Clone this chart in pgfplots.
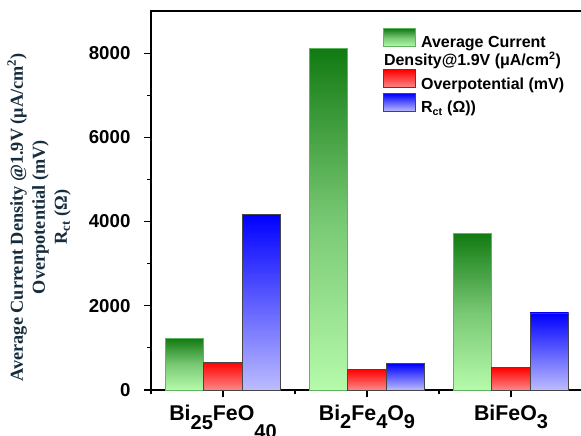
\documentclass[border=0pt]{standalone}
\usepackage{fontspec}
\setmainfont{Liberation Serif}
\setsansfont{Liberation Sans}
\usepackage{pgfplots}
\pgfplotsset{compat=1.18}
\definecolor{gtop}{RGB}{18,122,18}
\definecolor{gmid}{RGB}{120,200,115}
\definecolor{gbot}{RGB}{182,250,172}
\definecolor{gedge}{RGB}{95,180,95}
\definecolor{rtop}{RGB}{255,0,0}
\definecolor{rbot}{RGB}{255,135,135}
\definecolor{btop}{RGB}{0,0,255}
\definecolor{bbot}{RGB}{188,188,255}
\definecolor{edge}{RGB}{70,70,70}
\definecolor{ylab}{RGB}{22,45,62}
\newcommand\sbx[2]{\raisebox{#1}{\fontsize{15}{15}\selectfont #2}}
\pgfplotsset{
  gbar/.style={ybar, bar width=0.267, bar shift=-0.267, draw=gedge, line width=0.6pt, top color=gtop, bottom color=gbot, middle color=gmid},
  rbar/.style={ybar, bar width=0.267, bar shift=0, draw=edge, line width=0.6pt, top color=rtop, bottom color=rbot},
  bbar/.style={ybar, bar width=0.267, bar shift=0.267, draw=edge, line width=0.6pt, top color=btop, bottom color=bbot},
}
\begin{document}
\begin{tikzpicture}
\begin{axis}[
  at={(0,0)}, anchor=south west,
  scale only axis, width=324pt, height=284.25pt,
  xmin=0.5, xmax=3.5, ymin=0, ymax=9000,
  xtick={1,2,3},
  xticklabels={{Bi\sbx{-6.75pt}{25}FeO\sbx{-13.5pt}{40}}, {Bi\sbx{-6pt}{2}Fe\sbx{-6pt}{4}O\sbx{-6pt}{9}}, {BiFeO\sbx{-6pt}{3}}},
  minor xtick={0.5,1.5,2.5,3.5},
  ytick={0,2000,4000,6000,8000},
  minor ytick={1000,3000,5000,7000},
  tick pos=left,
  tick align=outside,
  major tick length=5.5pt, minor tick length=3pt,
  tick style={black, line width=0.9pt},
  axis line style={line width=0.9pt},
  scaled y ticks=false,
  /pgf/number format/assume math mode=true,
  /pgf/number format/1000 sep={},
  yticklabel style={font=\fontsize{14}{14}\selectfont\sffamily\bfseries, inner sep=0pt, anchor=east, xshift=-9.75pt},
  xticklabel style={font=\fontsize{16}{16}\selectfont\sffamily\bfseries, inner sep=0pt, anchor=north, yshift=-5.75pt},
  ylabel={Average Current Density @1.9V (μA/cm\textsuperscript{2})\\Overpotential (mV)\\R\textsubscript{ct} (Ω)},
  ylabel style={at={(axis description cs:-0.259,0.456)}, anchor=center, align=center, font=\fontsize{13.7}{16.5}\selectfont\rmfamily\bfseries, text=ylab},
  legend style={at={(axis description cs:0.537,0.955)}, anchor=north west, draw=none, fill=none, inner sep=0pt,
    font=\fontsize{12}{12}\selectfont\sffamily\bfseries, row sep=1.5pt, column sep=3.75pt, nodes={inner sep=0pt}},
  legend cell align=left,
  legend image code/.code={\draw[#1] (0pt,-2.4pt) rectangle (24pt,11pt);},
]
\addplot[gbar] coordinates {(1,1230)};
\addlegendentry{Average Current}
\addlegendimage{empty legend}
\addlegendentry{\hspace*{-27.75pt}Density@1.9V (μA/cm\textsuperscript{2})}
\addplot[rbar] coordinates {(1,660)};
\addlegendentry{Overpotential (mV)}
\addplot[bbar] coordinates {(1,4160)};
\addlegendentry{R\textsubscript{ct} (Ω))}
\addplot[gbar, forget plot] coordinates {(2,8110)};
\addplot[gbar, forget plot] coordinates {(3,3720)};
\addplot[rbar, forget plot] coordinates {(2,490)};
\addplot[rbar, forget plot] coordinates {(3,530)};
\addplot[bbar, forget plot] coordinates {(2,625)};
\addplot[bbar, forget plot] coordinates {(3,1830)};
\end{axis}
\pgfresetboundingbox
\useasboundingbox (-113.25pt,-33.75pt) rectangle (322.5pt,292.5pt);
\end{tikzpicture}
\end{document}
